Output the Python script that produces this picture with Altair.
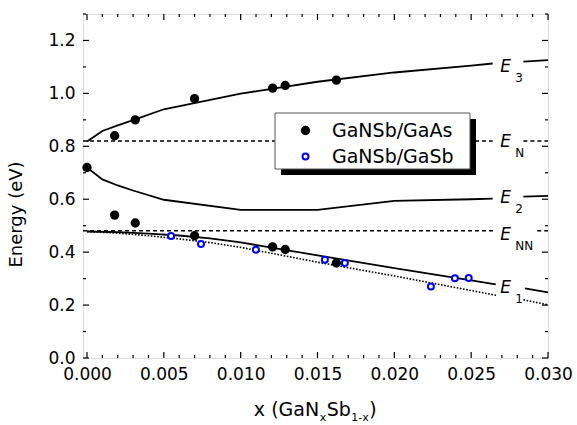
import altair as alt
import pandas as pd

FONT = "DejaVu Sans"
W, H = 465, 344
XMIN, XMAX = -0.00026, 0.030
YMIN, YMAX = 0.0, 1.3

# ---------------- data ----------------
series_names = ["GaNSb/GaAs", "GaNSb/GaSb"]

gaas_x = [0.0, 0.0018, 0.00314, 0.0070, 0.01208, 0.0129, 0.01623,
          0.0018, 0.00314, 0.0070, 0.01208, 0.0129, 0.01623]
gaas_e = [0.720, 0.840, 0.900, 0.980, 1.020, 1.030, 1.050,
          0.540, 0.510, 0.462, 0.420, 0.410, 0.359]

gasb_x = [0.00547, 0.00742, 0.01099, 0.01548, 0.01678, 0.02238, 0.02394, 0.02484]
gasb_e = [0.461, 0.431, 0.409, 0.371, 0.359, 0.270, 0.301, 0.302]

# model curves (each split in two pieces around its label)
e3_x1 = [0.0, 0.001, 0.002, 0.003, 0.005, 0.010, 0.015, 0.020, 0.025, 0.0264]
e3_e1 = [0.818, 0.858, 0.879, 0.899, 0.940, 0.999, 1.044, 1.079, 1.105, 1.113]
e3_x2 = [0.0284, 0.030]
e3_e2 = [1.120, 1.126]

e2_x1 = [0.0, 0.001, 0.002, 0.003, 0.005, 0.010, 0.015, 0.020, 0.025, 0.0264]
e2_e1 = [0.720, 0.675, 0.652, 0.633, 0.598, 0.560, 0.560, 0.594, 0.600, 0.602]
e2_x2 = [0.0284, 0.030]
e2_e2 = [0.610, 0.613]

e1_x1 = [0.0, 0.002, 0.004, 0.006, 0.008, 0.010, 0.012, 0.015, 0.020, 0.025, 0.0266]
e1_e1 = [0.478, 0.476, 0.470, 0.463, 0.452, 0.437, 0.417, 0.388, 0.340, 0.293, 0.278]
e1_x2 = [0.0285, 0.030]
e1_e2 = [0.263, 0.248]

e1d_x1 = [0.0, 0.002, 0.004, 0.006, 0.008, 0.010, 0.012, 0.015, 0.020, 0.025, 0.0267]
e1d_e1 = [0.478, 0.472, 0.462, 0.450, 0.436, 0.418, 0.396, 0.362, 0.310, 0.255, 0.236]
e1d_x2 = [0.0284, 0.030]
e1d_e2 = [0.220, 0.201]

en_x1, en_e1 = [XMIN, 0.0264], [0.820, 0.820]
en_x2, en_e2 = [0.0284, 0.030], [0.820, 0.820]
enn_x1, enn_e1 = [XMIN, 0.0266], [0.481, 0.481]
enn_x2, enn_e2 = [0.0293, 0.030], [0.481, 0.481]

# curve labels (anchor of the italic E, alphabetic baseline)
lab_main = ["E", "E", "E", "E", "E"]
lab_sub = ["3", "N", "2", "NN", "1"]
lab_x = [0.0269, 0.0269, 0.0269, 0.0269, 0.0269]
lab_e = [1.082, 0.799, 0.587, 0.447, 0.246]

x_major = [0.0, 0.005, 0.010, 0.015, 0.020, 0.025, 0.030]
x_minor = [0.001, 0.002, 0.003, 0.004, 0.006, 0.007, 0.008, 0.009,
           0.011, 0.012, 0.013, 0.014, 0.016, 0.017, 0.018, 0.019,
           0.021, 0.022, 0.023, 0.024, 0.026, 0.027, 0.028, 0.029]
y_major = [0.0, 0.2, 0.4, 0.6, 0.8, 1.0, 1.2]
y_minor = [0.1, 0.3, 0.5, 0.7, 0.9, 1.1, 1.3]

# x-axis title pieces: (text, is_subscript)
xtitle_parts = [("x (GaN", False), ("x", True), ("Sb", False), ("1-x", True), (")", False)]

# ---------------- tables ----------------
def curves(named):
    rows = []
    for name, pieces in named:
        for i, (xs, es) in enumerate(pieces):
            for x, e in zip(xs, es):
                rows.append({"x": x, "e": e, "key": f"{name}-{i}"})
    return pd.DataFrame(rows)

solid_df = curves([("E3", [(e3_x1, e3_e1), (e3_x2, e3_e2)]),
                   ("E2", [(e2_x1, e2_e1), (e2_x2, e2_e2)]),
                   ("E1", [(e1_x1, e1_e1), (e1_x2, e1_e2)])])
dashed_df = curves([("EN", [(en_x1, en_e1), (en_x2, en_e2)]),
                    ("ENN", [(enn_x1, enn_e1), (enn_x2, enn_e2)])])
dotted_df = curves([("E1d", [(e1d_x1, e1d_e1), (e1d_x2, e1d_e2)])])

pts_df = pd.DataFrame({
    "x": gaas_x + gasb_x,
    "e": gaas_e + gasb_e,
    "series": [series_names[0]] * len(gaas_x) + [series_names[1]] * len(gasb_x),
})
lab_df = pd.DataFrame({"x": lab_x, "e": lab_e, "main": lab_main, "sub": lab_sub})

xsc = alt.Scale(domain=[XMIN, XMAX], nice=False, zero=False)
ysc = alt.Scale(domain=[YMIN, YMAX], nice=False, zero=False)

x_axis = alt.Axis(
    values=x_major, format=".3f", ticks=False, domain=False, grid=False,
    labelPadding=8, labelFontSize=17, labelColor="black", labelFont=FONT,
    labelFlush=False, labelOverlap=False)
y_axis = alt.Axis(
    values=y_major, format=".1f", ticks=False, domain=False, grid=False,
    labelPadding=8, labelFontSize=17, labelColor="black", labelFont=FONT,
    labelFlush=False, labelOverlap=False,
    titleFont=FONT, titleFontSize=18, titleFontWeight="normal",
    titleColor="black", titleX=-62, titleY=200, titleAngle=270,
    titleBaseline="alphabetic", titleAlign="center")

X = alt.X("x:Q", scale=xsc, axis=x_axis, title=None)
Y = alt.Y("e:Q", scale=ysc, axis=y_axis, title="Energy (eV)")

solid = alt.Chart(solid_df).mark_line(color="black", strokeWidth=1.8).encode(
    x=X, y=Y, detail="key:N", order="x:Q")
dashed = alt.Chart(dashed_df).mark_line(color="black", strokeWidth=1.4, strokeDash=[4, 3]).encode(
    x=X, y=Y, detail="key:N", order="x:Q")
dotted = alt.Chart(dotted_df).mark_line(color="black", strokeWidth=1.6, strokeDash=[1.6, 1.6]).encode(
    x=X, y=Y, detail="key:N", order="x:Q")

legend = alt.Legend(
    title=None, orient="none", legendX=213, legendY=107, padding=0,
    labelFont=FONT, labelFontSize=19, labelColor="black", labelOffset=17,
    rowPadding=6, symbolStrokeWidth=2, symbolType="circle")
points = alt.Chart(pts_df).mark_point(strokeWidth=2, opacity=1, shape="circle").encode(
    x=X, y=Y,
    stroke=alt.Stroke("series:N", scale=alt.Scale(domain=series_names, range=["black", "#0000ff"]), legend=legend),
    fill=alt.Fill("series:N", scale=alt.Scale(domain=series_names, range=["black", "white"]), legend=legend),
    size=alt.Size("series:N", scale=alt.Scale(domain=series_names, range=[54, 36]), legend=legend),
)

one = pd.DataFrame({"a": [0]})
shadow = alt.Chart(one).mark_rect(color="black").encode(
    x=alt.value(198), x2=alt.value(393), y=alt.value(105), y2=alt.value(161))
box = alt.Chart(one).mark_rect(fill="white", stroke="#555555", strokeWidth=1).encode(
    x=alt.value(192), x2=alt.value(387), y=alt.value(99), y2=alt.value(155))

lab_main_layer = alt.Chart(lab_df).mark_text(
    font=FONT, fontSize=17, fontStyle="italic", align="left", baseline="alphabetic", color="black"
).encode(x=X, y=Y, text="main:N")
lab_sub_layer = alt.Chart(lab_df).mark_text(
    font=FONT, fontSize=12, align="left", baseline="alphabetic", color="black", dx=15, dy=10
).encode(x=X, y=Y, text="sub:N")

# x-axis title with real subscripts, built from text pieces laid out left to right
ADV = {"x": 0.592, " ": 0.318, "(": 0.390, ")": 0.390, "G": 0.775, "a": 0.613,
       "N": 0.748, "S": 0.635, "b": 0.635, "1": 0.636, "-": 0.361}
MAIN_FS, SUB_FS = 19, 11
widths = [sum(ADV[c] for c in t) * (SUB_FS if s else MAIN_FS) + 0.5 for t, s in xtitle_parts]
cursor = W / 2 - sum(widths) / 2
title_layers = []
for (t, s), w in zip(xtitle_parts, widths):
    title_layers.append(
        alt.Chart(one).mark_text(
            font=FONT, fontSize=SUB_FS if s else MAIN_FS, align="left",
            baseline="alphabetic", color="black", text=t
        ).encode(x=alt.value(cursor), y=alt.value(H + (63 if s else 58)))
    )
    cursor += w

def ticks_x(vals, length, top):
    df = pd.DataFrame({"x": vals})
    if top:
        ys = dict(y=alt.value(0), y2=alt.value(length))
    else:
        ys = dict(y=alt.value(H), y2=alt.value(H - length))
    return alt.Chart(df).mark_rule(color="black", strokeWidth=1.2).encode(x=X, **ys)

def ticks_y(vals, length, right):
    df = pd.DataFrame({"e": vals})
    if right:
        xs = dict(x=alt.value(W), x2=alt.value(W - length))
    else:
        xs = dict(x=alt.value(0), x2=alt.value(length))
    return alt.Chart(df).mark_rule(color="black", strokeWidth=1.2).encode(y=Y, **xs)

tick_layers = [ticks_x(x_major, 6, False), ticks_x(x_minor, 3, False),
               ticks_x(x_major, 6, True), ticks_x(x_minor, 3, True),
               ticks_y(y_major, 6, False), ticks_y(y_minor, 3, False),
               ticks_y(y_major, 6, True), ticks_y(y_minor, 3, True)]

chart = alt.layer(
    solid, dashed, dotted, points, shadow, box, lab_main_layer, lab_sub_layer,
    *tick_layers, *title_layers
).properties(
    width=W, height=H,
    padding={"left": 83, "top": 14, "right": 29, "bottom": 67},
    autosize=alt.AutoSizeParams(type="none"),
).configure_view(
    stroke="black", strokeWidth=1.6
).configure(background="white")

chart.save("out.html", embed_options={"renderer": "svg", "actions": False})
